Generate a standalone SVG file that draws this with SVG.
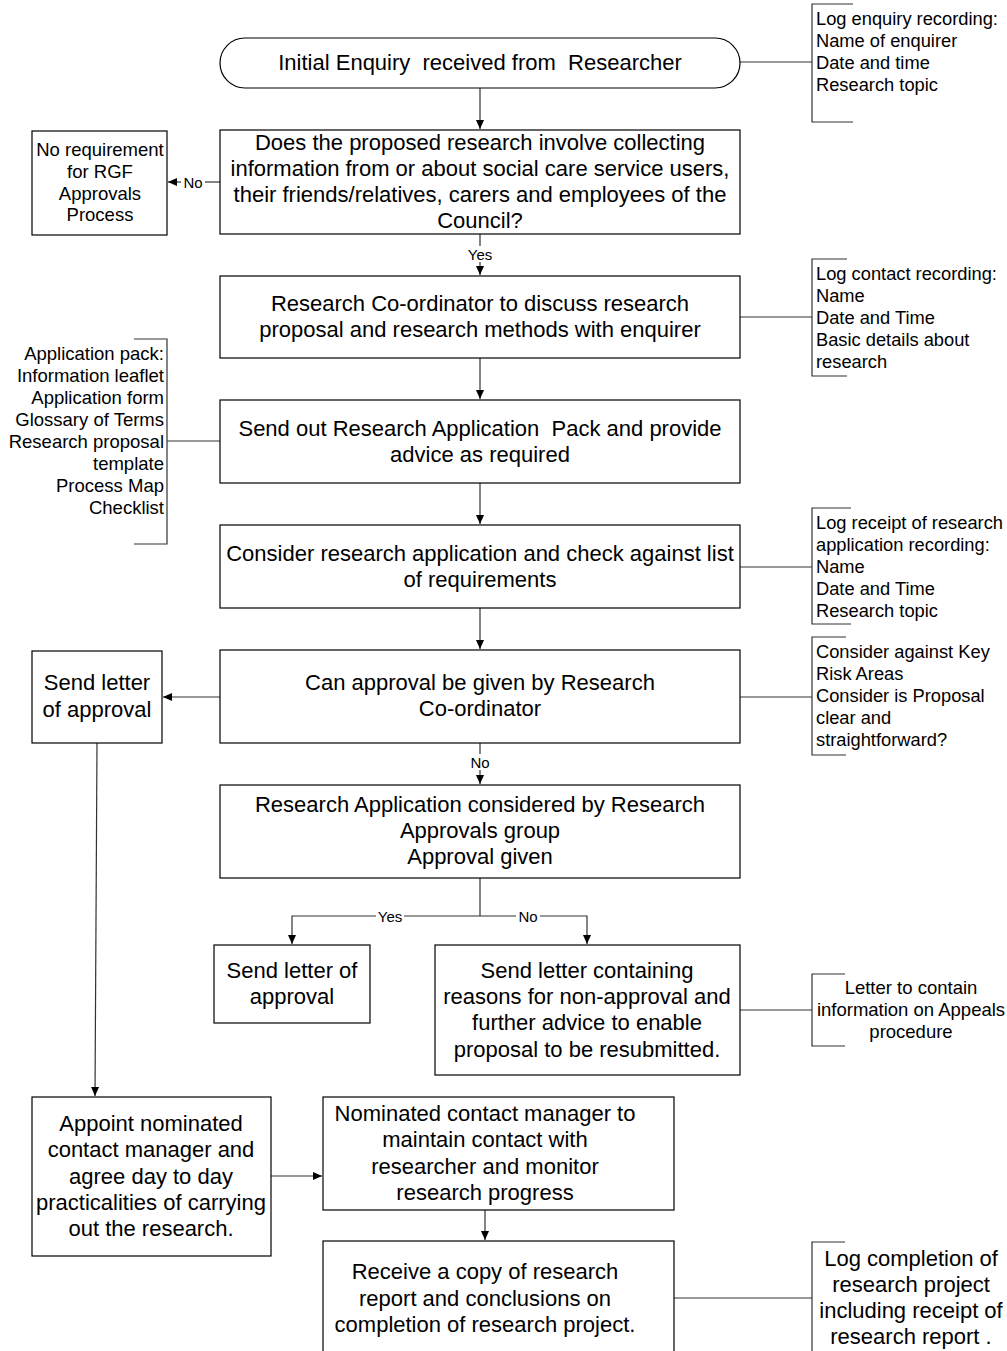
<svg xmlns="http://www.w3.org/2000/svg" width="1007" height="1351" viewBox="0 0 1007 1351">
<defs>
<style>
.box{fill:#fff;stroke:#000;stroke-width:1.2}
.ln{fill:none;stroke:#333;stroke-width:1.2}
.br{fill:none;stroke:#333;stroke-width:1.2}
text{font-family:"Liberation Sans",Arial,sans-serif;fill:#000;dominant-baseline:central;white-space:pre}
.t{font-size:22px;text-anchor:middle}
.s{font-size:18.3px}
.sm{font-size:18.5px;text-anchor:middle}
.sr{font-size:18.5px;text-anchor:end}
.lb{font-size:15px;text-anchor:middle}
</style>
<marker id="ah" markerWidth="10" markerHeight="10" refX="9" refY="5" orient="auto" markerUnits="userSpaceOnUse">
<path d="M0,1 L9,5 L0,9 Z" fill="#000"/>
</marker>
</defs>
<rect width="1007" height="1351" fill="#fff"/>

<g id="connectors">
<line class="ln" x1="480" y1="88" x2="480" y2="129" marker-end="url(#ah)"/>
<line class="ln" x1="220" y1="182" x2="205" y2="182"/>
<line class="ln" x1="181" y1="182" x2="168" y2="182" marker-end="url(#ah)"/>
<line class="ln" x1="480" y1="234" x2="480" y2="246"/>
<line class="ln" x1="480" y1="262" x2="480" y2="275" marker-end="url(#ah)"/>
<line class="ln" x1="480" y1="358" x2="480" y2="399" marker-end="url(#ah)"/>
<line class="ln" x1="480" y1="483" x2="480" y2="524" marker-end="url(#ah)"/>
<line class="ln" x1="480" y1="608" x2="480" y2="649" marker-end="url(#ah)"/>
<line class="ln" x1="220" y1="697" x2="163" y2="697" marker-end="url(#ah)"/>
<line class="ln" x1="480" y1="743" x2="480" y2="754"/>
<line class="ln" x1="480" y1="770" x2="480" y2="784" marker-end="url(#ah)"/>
<line class="ln" x1="480" y1="878" x2="480" y2="916"/>
<polyline class="ln" points="376,916 292,916 292,944" marker-end="url(#ah)"/>
<line class="ln" x1="404" y1="916" x2="480" y2="916"/>
<line class="ln" x1="480" y1="916" x2="516" y2="916"/>
<polyline class="ln" points="540,916 587,916 587,944" marker-end="url(#ah)"/>
<line class="ln" x1="97" y1="743" x2="95" y2="1096" marker-end="url(#ah)"/>
<line class="ln" x1="271" y1="1176" x2="322" y2="1176" marker-end="url(#ah)"/>
<line class="ln" x1="485" y1="1210" x2="485" y2="1240" marker-end="url(#ah)"/>
<line class="ln" x1="740" y1="62" x2="812" y2="62"/>
<line class="ln" x1="740" y1="317" x2="812" y2="317"/>
<line class="ln" x1="167" y1="441" x2="220" y2="441"/>
<line class="ln" x1="740" y1="567" x2="812" y2="567"/>
<line class="ln" x1="740" y1="697" x2="812" y2="697"/>
<line class="ln" x1="740" y1="1010" x2="812" y2="1010"/>
<line class="ln" x1="674" y1="1298" x2="812" y2="1298"/>
<text class="lb" x="193" y="182">No</text>
<text class="lb" x="480" y="254">Yes</text>
<text class="lb" x="480" y="762">No</text>
<text class="lb" x="390" y="916">Yes</text>
<text class="lb" x="528" y="916">No</text>
</g>

<g id="n1">
<rect class="box" x="220" y="38" width="520" height="50" rx="25" ry="25"/>
<text class="t" x="480" y="62">Initial Enquiry  received from  Researcher</text>
</g>
<g id="n1note">
<polyline class="br" points="853,4 812,4 812,122 853,122"/>
<text class="s" x="816" y="18">Log enquiry recording:</text>
<text class="s" x="816" y="40">Name of enquirer</text>
<text class="s" x="816" y="62">Date and time</text>
<text class="s" x="816" y="84">Research topic</text>
</g>

<g id="n2">
<rect class="box" x="220" y="130" width="520" height="104"/>
<text class="t" x="480" y="142">Does the proposed research involve collecting</text>
<text class="t" x="480" y="168">information from or about social care service users,</text>
<text class="t" x="480" y="194">their friends/relatives, carers and employees of the</text>
<text class="t" x="480" y="220">Council?</text>
</g>
<g id="n2no">
<rect class="box" x="32" y="131" width="135" height="104"/>
<text class="sm" x="100" y="149">No requirement</text>
<text class="sm" x="100" y="171">for RGF</text>
<text class="sm" x="100" y="193">Approvals</text>
<text class="sm" x="100" y="214">Process</text>
</g>

<g id="n3">
<rect class="box" x="220" y="276" width="520" height="82"/>
<text class="t" x="480" y="303">Research Co-ordinator to discuss research</text>
<text class="t" x="480" y="329">proposal and research methods with enquirer</text>
</g>
<g id="n3note">
<polyline class="br" points="847,259 812,259 812,376 847,376"/>
<text class="s" x="816" y="273">Log contact recording:</text>
<text class="s" x="816" y="295">Name</text>
<text class="s" x="816" y="317">Date and Time</text>
<text class="s" x="816" y="339">Basic details about</text>
<text class="s" x="816" y="361">research</text>
</g>

<g id="n4">
<rect class="box" x="220" y="400" width="520" height="83"/>
<text class="t" x="480" y="428">Send out Research Application  Pack and provide</text>
<text class="t" x="480" y="454">advice as required</text>
</g>
<g id="n4note">
<polyline class="br" points="134,339 167,339 167,544 134,544"/>
<text class="sr" x="164" y="353">Application pack:</text>
<text class="sr" x="164" y="375">Information leaflet</text>
<text class="sr" x="164" y="397">Application form</text>
<text class="sr" x="164" y="419">Glossary of Terms</text>
<text class="sr" x="164" y="441">Research proposal</text>
<text class="sr" x="164" y="463">template</text>
<text class="sr" x="164" y="485">Process Map</text>
<text class="sr" x="164" y="507">Checklist</text>
</g>

<g id="n5">
<rect class="box" x="220" y="525" width="520" height="83"/>
<text class="t" x="480" y="553">Consider research application and check against list</text>
<text class="t" x="480" y="579">of requirements</text>
</g>
<g id="n5note">
<polyline class="br" points="851,508 812,508 812,624 851,624"/>
<text class="s" x="816" y="522">Log receipt of research</text>
<text class="s" x="816" y="544">application recording:</text>
<text class="s" x="816" y="566">Name</text>
<text class="s" x="816" y="588">Date and Time</text>
<text class="s" x="816" y="610">Research topic</text>
</g>

<g id="n6">
<rect class="box" x="220" y="650" width="520" height="93"/>
<text class="t" x="480" y="682">Can approval be given by Research</text>
<text class="t" x="480" y="708">Co-ordinator</text>
</g>
<g id="n6yes">
<rect class="box" x="32" y="651" width="130" height="92"/>
<text class="t" x="97" y="682">Send letter</text>
<text class="t" x="97" y="709">of approval</text>
</g>
<g id="n6note">
<polyline class="br" points="846,637 812,637 812,755 846,755"/>
<text class="s" x="816" y="651">Consider against Key</text>
<text class="s" x="816" y="673">Risk Areas</text>
<text class="s" x="816" y="695">Consider is Proposal</text>
<text class="s" x="816" y="717">clear and</text>
<text class="s" x="816" y="739">straightforward?</text>
</g>

<g id="n7">
<rect class="box" x="220" y="785" width="520" height="93"/>
<text class="t" x="480" y="804">Research Application considered by Research</text>
<text class="t" x="480" y="830">Approvals group</text>
<text class="t" x="480" y="856">Approval given</text>
</g>

<g id="n8">
<rect class="box" x="214" y="945" width="156" height="78"/>
<text class="t" x="292" y="970">Send letter of</text>
<text class="t" x="292" y="996">approval</text>
</g>

<g id="n9">
<rect class="box" x="435" y="945" width="305" height="130"/>
<text class="t" x="587" y="970">Send letter containing</text>
<text class="t" x="587" y="996">reasons for non-approval and</text>
<text class="t" x="587" y="1022">further advice to enable</text>
<text class="t" x="587" y="1049">proposal to be resubmitted.</text>
</g>
<g id="n9note">
<polyline class="br" points="845,974 812,974 812,1046 845,1046"/>
<text class="sm" x="911" y="987">Letter to contain</text>
<text class="sm" x="911" y="1009">information on Appeals</text>
<text class="sm" x="911" y="1031">procedure</text>
</g>

<g id="n10">
<rect class="box" x="32" y="1097" width="239" height="159"/>
<text class="t" x="151" y="1123">Appoint nominated</text>
<text class="t" x="151" y="1149">contact manager and</text>
<text class="t" x="151" y="1176">agree day to day</text>
<text class="t" x="151" y="1202">practicalities of carrying</text>
<text class="t" x="151" y="1228">out the research.</text>
</g>

<g id="n11">
<rect class="box" x="323" y="1097" width="351" height="113"/>
<text class="t" x="485" y="1113">Nominated contact manager to</text>
<text class="t" x="485" y="1139">maintain contact with</text>
<text class="t" x="485" y="1166">researcher and monitor</text>
<text class="t" x="485" y="1192">research progress</text>
</g>

<g id="n12">
<rect class="box" x="323" y="1241" width="351" height="120"/>
<text class="t" x="485" y="1271">Receive a copy of research</text>
<text class="t" x="485" y="1298">report and conclusions on</text>
<text class="t" x="485" y="1324">completion of research project.</text>
</g>
<g id="n12note">
<polyline class="br" points="845,1242 812,1242 812,1360"/>
<text class="t" x="911" y="1258">Log completion of</text>
<text class="t" x="911" y="1284">research project</text>
<text class="t" x="911" y="1310">including receipt of</text>
<text class="t" x="911" y="1336">research report .</text>
</g>
</svg>
